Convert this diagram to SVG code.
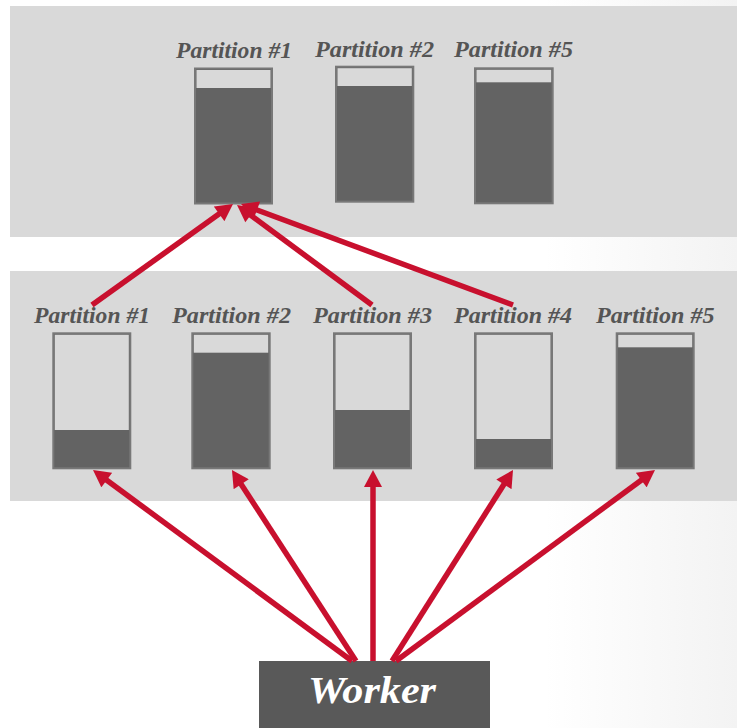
<svg xmlns="http://www.w3.org/2000/svg" width="737" height="728" viewBox="0 0 737 728">
  <defs>
    <linearGradient id="bg" x1="0" y1="0" x2="1" y2="0">
      <stop offset="0" stop-color="#ffffff"/>
      <stop offset="0.74" stop-color="#ffffff"/>
      <stop offset="1" stop-color="#f3f3f3"/>
    </linearGradient>
    <marker id="head" markerUnits="userSpaceOnUse" markerWidth="18" markerHeight="18" viewBox="0 0 17 18" refX="7" refY="9" orient="auto">
      <path d="M0,0 L17,9 L0,18 z" fill="#c8102e"/>
    </marker>
    <style>
      .panel { fill: #d9d9d9; }
      .box { fill: #636363; stroke: #787878; stroke-width: 2; }
      .empty { fill: #d9d9d9; }
      .label { font-family: "Liberation Serif", "DejaVu Serif", serif; font-weight: bold; font-style: italic; font-size: 23px; fill: #555555; }
      .worker-text { font-family: "Liberation Serif", "DejaVu Serif", serif; font-weight: bold; font-style: italic; font-size: 38px; fill: #ffffff; }
      .link { stroke: #c8102e; stroke-width: 5.5; fill: none; marker-end: url(#head); }
    </style>
  </defs>

  <!-- backdrop -->
  <rect x="0" y="0" width="737" height="728" fill="url(#bg)"/>

  <!-- upper tier -->
  <rect class="panel" x="10" y="6" width="727" height="231"/>
  <!-- lower tier -->
  <rect class="panel" x="10" y="271" width="727" height="230"/>

  <!-- upper tier partitions -->
  <g id="upper-p1">
    <text class="label" x="176" y="58" textLength="116" lengthAdjust="spacingAndGlyphs">Partition #1</text>
    <rect class="box" x="195" y="68.5" width="77" height="135"/>
    <rect class="empty" x="196.5" y="70" width="74" height="18"/>
  </g>
  <g id="upper-p2">
    <text class="label" x="315" y="57" textLength="119" lengthAdjust="spacingAndGlyphs">Partition #2</text>
    <rect class="box" x="336" y="66.7" width="77.3" height="135"/>
    <rect class="empty" x="337.5" y="68.2" width="74.3" height="17.8"/>
  </g>
  <g id="upper-p5">
    <text class="label" x="454" y="57" textLength="119" lengthAdjust="spacingAndGlyphs">Partition #5</text>
    <rect class="box" x="475" y="68.3" width="77.7" height="135"/>
    <rect class="empty" x="476.5" y="69.8" width="74.7" height="12.5"/>
  </g>

  <!-- lower tier partitions -->
  <g id="lower-p1">
    <text class="label" x="34" y="323" textLength="116" lengthAdjust="spacingAndGlyphs">Partition #1</text>
    <rect class="box" x="53.3" y="333.3" width="77" height="135"/>
    <rect class="empty" x="54.8" y="334.8" width="74" height="95.2"/>
  </g>
  <g id="lower-p2">
    <text class="label" x="172" y="323" textLength="119" lengthAdjust="spacingAndGlyphs">Partition #2</text>
    <rect class="box" x="192.3" y="333.3" width="77.4" height="135"/>
    <rect class="empty" x="193.8" y="334.8" width="74.4" height="17.9"/>
  </g>
  <g id="lower-p3">
    <text class="label" x="313" y="323" textLength="119" lengthAdjust="spacingAndGlyphs">Partition #3</text>
    <rect class="box" x="334" y="333.3" width="77" height="135"/>
    <rect class="empty" x="335.5" y="334.8" width="74" height="75.2"/>
  </g>
  <g id="lower-p4">
    <text class="label" x="454" y="323" textLength="118" lengthAdjust="spacingAndGlyphs">Partition #4</text>
    <rect class="box" x="475" y="333.3" width="77" height="135"/>
    <rect class="empty" x="476.5" y="334.8" width="74" height="104.2"/>
  </g>
  <g id="lower-p5">
    <text class="label" x="596" y="323" textLength="118.5" lengthAdjust="spacingAndGlyphs">Partition #5</text>
    <rect class="box" x="616.7" y="333.3" width="77" height="135"/>
    <rect class="empty" x="618.2" y="334.8" width="74" height="12.5"/>
  </g>

  <!-- worker -->
  <g id="worker">
    <rect x="259" y="661" width="231" height="67" fill="#595959"/>
    <text class="worker-text" x="308" y="703" textLength="128" lengthAdjust="spacingAndGlyphs">Worker</text>
  </g>

  <!-- connectors -->
  <g id="connectors">
    <line class="link" x1="352" y1="661" x2="101.05" y2="475.94"/>
    <line class="link" x1="356" y1="661" x2="237.4" y2="478.4"/>
    <line class="link" x1="373" y1="661" x2="373" y2="480"/>
    <line class="link" x1="392" y1="661" x2="507.65" y2="478.45"/>
    <line class="link" x1="396" y1="661" x2="646.95" y2="475.94"/>
    <line class="link" x1="92" y1="305" x2="224.87" y2="209.82"/>
    <line class="link" x1="372" y1="305" x2="245.04" y2="210.95"/>
    <line class="link" x1="513" y1="305" x2="250.4" y2="207.5"/>
  </g>
</svg>
